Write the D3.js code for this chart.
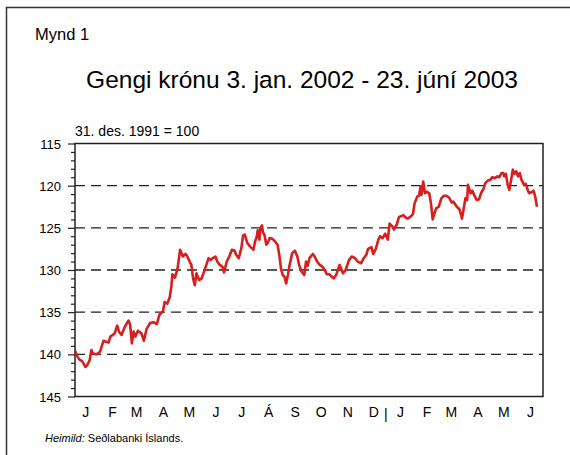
<!DOCTYPE html>
<html>
<head>
<meta charset="utf-8">
<script src="https://cdn.jsdelivr.net/npm/d3@7"></script>
<style>
	body { margin: 0; background: #fff; }
	svg text { font-family: 'Liberation Sans', Arial, sans-serif; fill: #000; }
</style>
</head>
<body>
<script>
// gengisvísitala, dagar frá 3. jan. 2002
const startDate = new Date(2002, 0, 3);
const endDate = new Date(2003, 5, 30);

const dayOffsets = [0, 1, 3, 5, 8, 10, 12, 14, 17, 19, 21, 25, 29, 33, 36, 39, 41, 44, 46, 49, 51, 54, 58, 62, 64, 66, 68, 70, 73, 77, 80, 83, 87, 91, 95, 98, 102, 104, 107, 110, 112, 113, 116, 119,
	122, 125, 128, 130, 133, 135, 137, 139, 141, 144, 147, 151, 155, 157, 160, 163, 165, 168, 171, 173, 176, 179, 182, 185, 187, 190, 193, 195, 197, 200, 203, 205, 207, 209, 211, 212, 214, 215, 217, 218, 220, 222, 224, 226, 229, 232, 235, 237, 239, 241, 243, 245, 247, 249, 252, 255, 258, 260, 263, 266, 268, 270, 272, 276, 278, 281, 284, 287, 290, 292, 295, 298, 300, 303,
	307, 311, 314, 318, 321, 325, 328, 332, 335, 338, 340, 344, 346, 349, 352, 354, 357, 360, 363, 365, 368, 370, 373, 376, 379, 381, 384, 386, 389, 392, 394, 397, 399, 401, 402, 404, 406, 408, 411, 413, 415, 417, 419, 422, 425, 428, 431, 434, 437, 439, 443, 446, 448, 449, 451, 453, 455, 456, 459, 461, 464, 466, 469, 471, 474, 476, 479, 482, 484, 487, 490, 492, 495, 497, 498, 500, 502, 504, 506, 508, 510, 512, 514, 516, 518, 521, 523, 526, 527, 531, 532, 534, 536];

const values = [139.6, 139.8, 140.3, 140.6, 140.8, 141.1, 141.5, 141.3, 140.7, 139.5, 139.9, 140.0, 139.7, 138.4, 138.5, 138.6, 137.9, 137.7, 137.5, 136.6, 137.3, 137.7, 136.7, 136.0, 136.5, 138.7, 137.3, 137.9, 137.2, 137.5, 138.4, 137.0, 136.3, 136.2, 136.4, 135.3, 134.9, 133.8, 134.0, 133.2, 131.8, 130.5, 130.9, 129.8,
	127.6, 128.4, 128.1, 128.3, 129.0, 129.4, 131.0, 131.8, 130.4, 131.2, 131.0, 129.8, 128.6, 128.8, 128.6, 128.4, 129.0, 129.4, 129.6, 130.3, 129.0, 128.4, 127.6, 127.7, 128.2, 128.6, 127.4, 125.9, 125.8, 126.8, 127.2, 127.4, 127.6, 126.6, 126.0, 125.3, 126.4, 125.1, 124.7, 125.5, 125.9, 127.0, 126.7, 126.2, 126.3, 126.6, 127.0, 128.2, 129.8, 130.6, 130.8, 131.6, 130.6, 129.4, 128.0, 127.7, 128.4, 129.4, 130.2, 130.6, 129.0, 129.5, 128.6, 128.1, 128.4, 129.0, 129.4, 129.6, 130.0, 130.5, 130.5, 130.8, 131.0, 130.6,
	129.4, 130.4, 130.0, 128.8, 128.4, 128.6, 129.0, 129.2, 128.6, 128.2, 127.5, 127.3, 128.1, 127.5, 126.4, 126.0, 126.2, 125.7, 126.4, 124.5, 124.8, 125.2, 124.7, 123.7, 123.6, 123.5, 123.8, 123.9, 123.7, 123.4, 122.1, 121.3, 121.2, 120.1, 121.1, 119.5, 120.9, 120.7, 120.9, 122.1, 124.0, 123.3, 122.7, 122.5, 121.5, 121.2, 121.2, 121.4, 122.0, 121.9, 122.5, 122.8, 123.5, 123.9, 122.7, 121.5, 121.7, 119.9, 120.9, 120.6, 121.3, 121.7, 121.6, 120.9, 120.4, 119.7, 119.4, 119.3, 119.0, 119.1, 118.9, 119.0, 118.5, 118.5, 118.9, 118.6, 119.9, 120.5, 119.3, 118.1, 118.6, 118.3, 118.9, 118.5, 119.3, 119.9, 119.8, 120.7, 120.9, 120.7, 120.6, 121.3, 122.5];

const monthLabels = ["J", "F", "M", "A", "M", "J", "J", "Á", "S", "O", "N", "D", "J", "F", "M", "A", "M", "J"];
const yTicks = [115, 120, 125, 130, 135, 140, 145];
const yDomain = [115, 145];

const title = "Gengi krónu 3. jan. 2002 - 23. júní 2003";
const figLabel = "Mynd 1";
const unitLabel = "31. des. 1991 = 100";

const width = 570;
const height = 455;
const plot = {left: 75, right: 543, top: 143.5, bottom: 396.5};
const font = "'Liberation Sans', Arial, sans-serif";

let data = dayOffsets.map((d, i) => ({date: d3.timeDay.offset(startDate, d), value: values[i]}));

let svg = d3.select("body").append("svg")
	.attr("width", width)
	.attr("height", height)
	.attr("font-family", font);

// rammi
svg.append("path")
	.attr("d", `M6.5,${height}V7.5H${width}`)
	.attr("fill", "none")
	.attr("stroke", "#333")
	.attr("stroke-width", 1.5);

svg.append("text").attr("x", 35).attr("y", 40).style("font-size", "16.5px").text(figLabel);
svg.append("text").attr("x", 302).attr("y", 88).attr("text-anchor", "middle").style("font-size", "24.5px").text(title);
svg.append("text").attr("x", 75).attr("y", 136).style("font-size", "14px").text(unitLabel);

let x = d3.scaleTime().domain([startDate, endDate]).range([plot.left, plot.right]);
let y = d3.scaleLinear().domain(yDomain).range([plot.top, plot.bottom]);

// hnitalínur
svg.append("g")
	.selectAll("line")
	.data(yTicks.slice(1, -1))
	.enter().append("line")
	.attr("x1", plot.left)
	.attr("x2", plot.right)
	.attr("y1", d => y(d))
	.attr("y2", d => y(d))
	.attr("stroke", "#222")
	.attr("stroke-width", 1.3)
	.attr("stroke-dasharray", "10,6");

// y-ás, minni strik
let minor = d3.range(yDomain[0], yDomain[1] + 1).filter(d => d % 5 !== 0);
svg.append("g")
	.attr("transform", `translate(${plot.left},0)`)
	.call(d3.axisLeft(y).tickValues(minor).tickSize(4).tickFormat(""))
	.call(g => g.select(".domain").remove())
	.call(g => g.selectAll("line").attr("stroke", "#222").attr("stroke-width", 1.2));

svg.append("g")
	.attr("transform", `translate(${plot.left},0)`)
	.call(d3.axisLeft(y).tickValues(yTicks).tickSize(7).tickPadding(7))
	.attr("font-family", font)
	.call(g => g.select(".domain").remove())
	.call(g => g.selectAll("line").attr("stroke", "#222").attr("stroke-width", 1.2))
	.call(g => g.selectAll("text").style("font-size", "13px").attr("dy", "0.35em"));

// x-ás, mánuðir
let months = d3.timeMonth.range(new Date(2002, 0, 1), new Date(2003, 6, 1));
let mid = months.map(m => d3.timeDay.offset(m, 14));
svg.append("g")
	.attr("transform", `translate(0,${plot.bottom})`)
	.call(d3.axisBottom(x).tickValues(mid).tickSize(0).tickPadding(11).tickFormat((d, i) => monthLabels[i]))
	.attr("font-family", font)
	.call(g => g.select(".domain").remove())
	.call(g => g.selectAll("text").style("font-size", "14px"));

svg.append("text")
	.attr("x", x(new Date(2003, 0, 1)) - 2)
	.attr("y", plot.bottom + 22)
	.attr("text-anchor", "middle")
	.style("font-size", "14px")
	.text("|");

// rammi um teiknisvæði
svg.append("rect")
	.attr("x", plot.left)
	.attr("y", plot.top)
	.attr("width", plot.right - plot.left)
	.attr("height", plot.bottom - plot.top)
	.attr("fill", "none")
	.attr("stroke", "#222")
	.attr("stroke-width", 1.5);

let line = d3.line()
	.x(d => x(d.date))
	.y(d => y(d.value));

svg.append("path")
	.datum(data)
	.attr("d", line)
	.attr("fill", "none")
	.attr("stroke", "#d81e1e")
	.attr("stroke-width", 2.6)
	.attr("stroke-linejoin", "round");

let src = svg.append("text").attr("x", 45).attr("y", 442).style("font-size", "11px");
src.append("tspan").style("font-style", "italic").text("Heimild:");
src.append("tspan").text(" Seðlabanki Íslands.");
</script>
</body>
</html>
